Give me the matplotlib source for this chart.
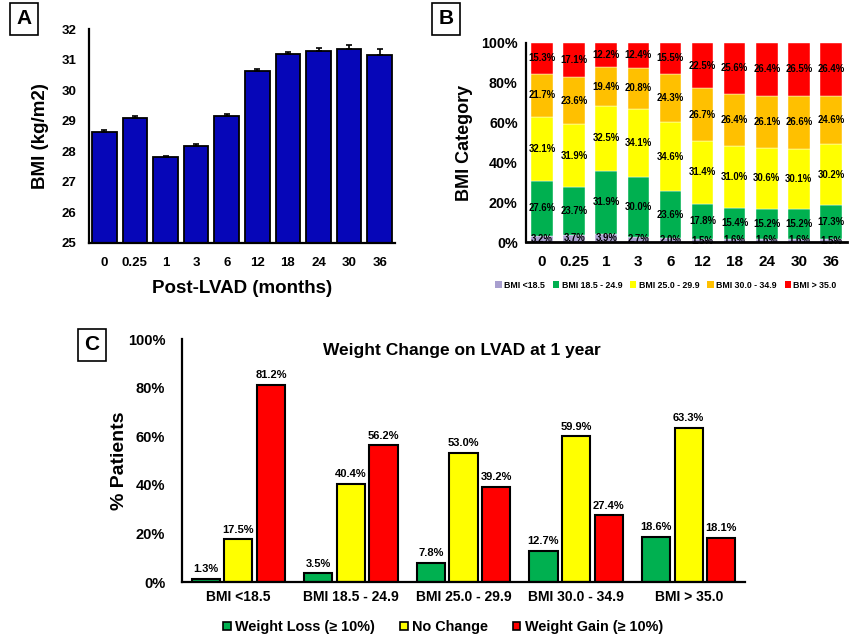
import numpy as np
import matplotlib
matplotlib.use('Agg')
import matplotlib.pyplot as plt
from matplotlib.patches import Patch

plt.rcParams['font.family'] = ['Liberation Sans', 'DejaVu Sans']
plt.rcParams['font.weight'] = 'bold'

# panel A data
months = ['0', '0.25', '1', '3', '6', '12', '18', '24', '30', '36']
bmi_mean = [28.63, 29.1, 27.8, 28.18, 29.17, 30.63, 31.18, 31.28, 31.36, 31.16]
bmi_err = [0.05, 0.05, 0.05, 0.05, 0.05, 0.07, 0.08, 0.1, 0.13, 0.17]

# panel B data (percent per BMI category, bottom to top)
cat_names = ['BMI <18.5', 'BMI 18.5 - 24.9', 'BMI 25.0 - 29.9', 'BMI 30.0 - 34.9', 'BMI > 35.0']
under = [3.2, 3.7, 3.9, 2.7, 2.0, 1.5, 1.6, 1.6, 1.6, 1.5]
normal = [27.6, 23.7, 31.9, 30.0, 23.6, 17.8, 15.4, 15.2, 15.2, 17.3]
over = [32.1, 31.9, 32.5, 34.1, 34.6, 31.4, 31.0, 30.6, 30.1, 30.2]
obese1 = [21.7, 23.6, 19.4, 20.8, 24.3, 26.7, 26.4, 26.1, 26.6, 24.6]
obese2 = [15.3, 17.1, 12.2, 12.4, 15.5, 22.5, 25.6, 26.4, 26.5, 26.4]

# panel C data
groups = ['BMI <18.5', 'BMI 18.5 - 24.9', 'BMI 25.0 - 29.9', 'BMI 30.0 - 34.9', 'BMI > 35.0']
loss = [1.3, 3.5, 7.8, 12.7, 18.6]
no_change = [17.5, 40.4, 53.0, 59.9, 63.3]
gain = [81.2, 56.2, 39.2, 27.4, 18.1]

fig = plt.figure(figsize=(8.49, 6.39), dpi=100)

def style(ax):
    for s in ['top', 'right']:
        ax.spines[s].set_visible(False)
    for s in ['left', 'bottom']:
        ax.spines[s].set_linewidth(1.6)
    ax.tick_params(length=0, pad=6)

def panel_label(x, y, s):
    fig.text(x, y, s, fontsize=15, fontweight='bold', ha='center', va='center',
             bbox=dict(boxstyle='square,pad=0.3', fc='white', ec='black', lw=1.2))

# ---- A
axA = fig.add_axes([89/849, 1-243/639, 306/849, 214/639])
x = np.arange(len(months))
axA.bar(x, np.array(bmi_mean) - 25, bottom=25, width=0.8, color='#0606b8',
        edgecolor='black', linewidth=1.3,
        yerr=[np.zeros(len(bmi_err)), bmi_err], capsize=2.5,
        error_kw=dict(ecolor='black', elinewidth=1.2, capthick=1.2))
axA.set_ylim(25, 32)
axA.set_xlim(-0.5, 9.5)
axA.set_xticks(x)
axA.set_xticklabels(months, fontsize=9.5)
axA.set_yticks(range(25, 33))
axA.tick_params(axis='y', labelsize=9.5)
axA.set_xlabel('Post-LVAD (months)', fontsize=13.5, fontweight='bold', labelpad=8)
axA.set_ylabel('BMI (kg/m2)', fontsize=13.5, fontweight='bold', labelpad=9)
style(axA)
axA.tick_params(axis='x', pad=10)
axA.tick_params(axis='y', pad=9)
panel_label(24/849, 1-19/639, 'A')

# ---- B
axB = fig.add_axes([526/849, 1-242/639, 321/849, 199/639])
colsB = ['#a89fcf', '#00b050', '#ffff00', '#ffc000', '#ff0000']
bottom = np.zeros(len(months))
for vals, c, name in zip([under, normal, over, obese1, obese2], colsB, cat_names):
    v = np.array(vals)
    axB.bar(x, v, bottom=bottom, width=0.67, color=c, edgecolor='white', linewidth=0.3, label=name)
    for xi, b, h in zip(x, bottom, v):
        axB.text(xi, b + h/2, f'{h:.1f}%', ha='center', va='center', fontsize=6.9,
                 fontweight='bold', color='black')
    bottom += v
axB.set_ylim(0, 100)
axB.set_xlim(-0.5, 9.5)
axB.set_xticks(x)
axB.set_xticklabels(months, fontsize=11)
axB.set_yticks(range(0, 101, 20))
axB.set_yticklabels([f'{t}%' for t in range(0, 101, 20)], fontsize=10.3)
axB.set_ylabel('BMI Category', fontsize=13, fontweight='bold', labelpad=6)
style(axB)
axB.tick_params(axis='x', pad=9)
axB.spines['bottom'].set_linewidth(2)
panel_label(446/849, 1-19/639, 'B')
handlesB = [Patch(facecolor=c) for c in colsB]
fig.legend(handlesB, cat_names, loc='center', bbox_to_anchor=(666/849, 1-285/639), ncol=5,
           frameon=False, fontsize=6.3, handlelength=0.7, handleheight=0.7,
           handletextpad=0.3, columnspacing=0.9)

# ---- C
axC = fig.add_axes([182/849, 1-582/639, 563/849, 243/639])
xg = np.arange(len(groups))
off = 0.29
w = 0.25
colsC = ['#00b050', '#ffff00', '#ff0000']
namesC = ['Weight Loss (≥ 10%)', 'No Change', 'Weight Gain (≥ 10%)']
for k, (vals, c) in enumerate(zip([loss, no_change, gain], colsC)):
    pos = xg + (k - 1) * off
    axC.bar(pos, vals, width=w, color=c, edgecolor='black', linewidth=1.5)
    for p, v in zip(pos, vals):
        axC.text(p, v + 2, f'{v:.1f}%', ha='center', va='bottom', fontsize=8, fontweight='bold')
axC.set_ylim(0, 100)
axC.set_xlim(-0.5, 4.5)
axC.set_xticks(xg)
axC.set_xticklabels(groups, fontsize=10)
axC.set_yticks(range(0, 101, 20))
axC.set_yticklabels([f'{t}%' for t in range(0, 101, 20)], fontsize=10.5)
axC.set_ylabel('% Patients', fontsize=14, fontweight='bold', labelpad=0)
style(axC)
axC.tick_params(axis='y', pad=12)
fig.text(462/849, 1-350/639, 'Weight Change on LVAD at 1 year', ha='center', va='center',
         fontsize=12.5, fontweight='bold')
panel_label(92/849, 1-345/639, 'C')
handlesC = [Patch(facecolor=c, edgecolor='black', linewidth=1.2) for c in colsC]
fig.legend(handlesC, namesC, loc='center', bbox_to_anchor=(443/849, 1-627/639), ncol=3,
           frameon=False, fontsize=10.4, handlelength=0.55, handleheight=0.55,
           handletextpad=0.3, columnspacing=1.7)

fig.savefig('out.png', dpi=100)
